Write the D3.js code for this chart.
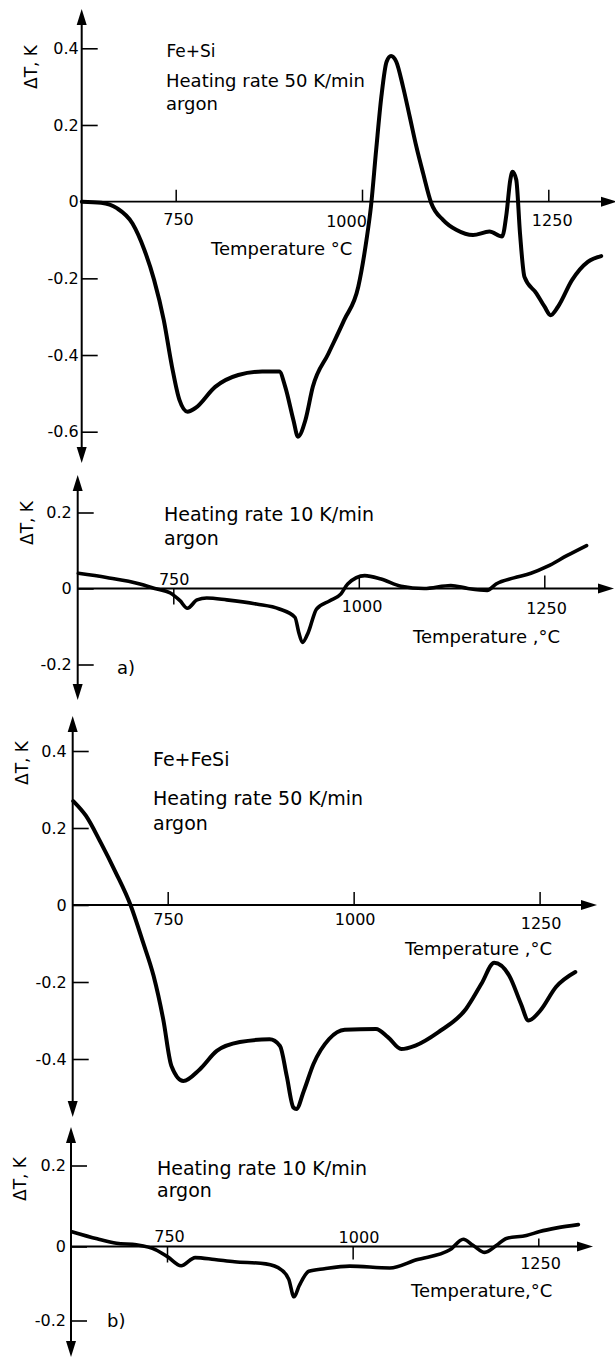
<!DOCTYPE html>
<html>
<head>
<meta charset="utf-8">
<script src="https://cdn.jsdelivr.net/npm/d3@7"></script>
<style>
  html, body { margin: 0; padding: 0; background: #fff; }
  svg { display: block; }
</style>
</head>
<body>
<script>
// ---------------- DATA ----------------
const xTicks = [750, 1000, 1250];
const yTicksA = [0.4, 0.2, 0, -0.2, -0.4, -0.6];
const yTicksB = [0.2, 0, -0.2];
const yTicksC = [0.4, 0.2, 0, -0.2, -0.4];
const yTicksD = [0.2, 0, -0.2];

// a) Fe+Si, 50 K/min
const tempA = [624, 650, 671, 692, 708, 721, 734, 745, 755, 766, 776, 803, 834, 866, 889, 897, 908, 914, 924, 934,
  955, 976, 995, 1006, 1012, 1019, 1026, 1033, 1039, 1046, 1055, 1064, 1073, 1082, 1093, 1109, 1127, 1149, 1171, 1188,
  1194, 1199, 1202, 1207, 1212, 1218, 1234, 1245, 1253, 1263, 1282, 1303, 1321];
const dtA = [0, -0.003, -0.017, -0.057, -0.126, -0.204, -0.309, -0.43, -0.517, -0.548, -0.539, -0.483, -0.452, -0.443, -0.443, -0.483, -0.57, -0.613, -0.57, -0.483,
  -0.396, -0.309, -0.222, -0.1, -0.013, 0.135, 0.274, 0.365, 0.38, 0.365, 0.30, 0.222, 0.143, 0.074, -0.004, -0.048, -0.074, -0.087, -0.078, -0.091,
  -0.03, 0.057, 0.078, 0.057, -0.082, -0.196, -0.239, -0.274, -0.296, -0.274, -0.204, -0.157, -0.142];

// a) Fe+Si, 10 K/min
const tempB = [622, 660, 705, 725, 746, 759, 769, 782, 795, 822, 862, 893, 914, 919, 924, 932, 943, 961, 976, 985,
  1008, 1030, 1057, 1088, 1124, 1147, 1173, 1185, 1209, 1232, 1254, 1281, 1307];
const dtB = [0.040, 0.029, 0.012, 0, -0.012, -0.032, -0.052, -0.030, -0.025, -0.030, -0.041, -0.054, -0.076, -0.115, -0.142, -0.115, -0.054, -0.032, -0.014, 0.012,
  0.034, 0.025, 0.006, 0.0, 0.008, 0, -0.005, 0.012, 0.028, 0.040, 0.058, 0.087, 0.113];

// b) Fe+FeSi, 50 K/min
const tempC = [623, 640, 660, 680, 700, 717, 731, 744, 755, 771, 793, 816, 847, 887, 901, 910, 919, 923, 933,
  946, 967, 988, 1030, 1046, 1064, 1083, 1114, 1151, 1172, 1189, 1209, 1225, 1235, 1251, 1272, 1298];
const dtC = [0.270, 0.232, 0.162, 0.085, 0, -0.098, -0.184, -0.297, -0.418, -0.457, -0.427, -0.379, -0.356, -0.349, -0.366, -0.444, -0.526, -0.53, -0.483,
  -0.413, -0.348, -0.324, -0.322, -0.343, -0.374, -0.365, -0.330, -0.270, -0.204, -0.150, -0.183, -0.257, -0.300, -0.274, -0.213, -0.174];

// b) Fe+FeSi, 10 K/min
const tempD = [623, 656, 682, 709, 735, 751, 769, 788, 814, 841, 883, 904, 914, 921, 928, 941, 962, 996, 1050, 1086,
  1131, 1149, 1162, 1178, 1194, 1207, 1234, 1252, 1275, 1304];
const dtD = [0.036, 0.019, 0.008, 0.004, -0.009, -0.028, -0.052, -0.030, -0.035, -0.041, -0.047, -0.063, -0.089, -0.136, -0.106, -0.067, -0.06, -0.053, -0.058, -0.036,
  -0.009, 0.018, 0.003, -0.016, 0.003, 0.020, 0.027, 0.037, 0.046, 0.054];

const yTitle = "ΔT, K";
const textsA = ["Fe+Si", "Heating rate 50 K/min", "argon", "Temperature °C"];
const textsB = ["Heating rate 10 K/min", "argon", "a)", "Temperature ,°C"];
const textsC = ["Fe+FeSi", "Heating rate 50 K/min", "argon", "Temperature ,°C"];
const textsD = ["Heating rate 10 K/min", "argon", "b)", "Temperature,°C"];

// ---------------- LAYOUT ----------------
const FONT = "'DejaVu Sans', 'Noto Sans', sans-serif";
const panels = [
  { temp: tempA, dt: dtA, yTicks: yTicksA, texts: textsA,
    axisX: 81.7, x750: 175.7, x1250: 548.3,
    yDom: [-0.6, 0.4], yRng: [431.7, 48.3],
    yTop: 9, yBot: 463, xTip: 617, pad: 3,
    tickY2: [-12, -12, -12], labDx: [2.3, -16, 3.4], labY: [23.3, 25, 24.3],
    textPos: [[166.5, 57, 17], [166, 87, 18], [166, 109.5, 18], [211, 255, 18]],
    titlePos: [31, 67], curveW: 4 },
  { temp: tempB, dt: dtB, yTicks: yTicksB, texts: textsB,
    axisX: 77.7, x750: 173.3, x1250: 544.3,
    yDom: [-0.2, 0.2], yRng: [664.5, 512.5],
    yTop: 475, yBot: 700, xTip: 614, pad: 6,
    tickY2: [16, -13, -13], labDx: [0.4, 2.7, 1.7], labY: [-3.5, 23.2, 25.5],
    textPos: [[164, 520.5, 19], [164, 545, 19], [117, 674, 18], [413, 643, 18]],
    titlePos: [27, 523], curveW: 3.6 },
  { temp: tempC, dt: dtC, yTicks: yTicksC, texts: textsC,
    axisX: 72.7, x750: 167.7, x1250: 539.6,
    yDom: [-0.4, 0.4], yRng: [1059, 751],
    yTop: 716, yBot: 1117, xTip: 597, pad: 6,
    tickY2: [-13, -13, -13], labDx: [0.3, 1, 1], labY: [20, 20, 23.5],
    textPos: [[153, 766, 19], [153, 805, 19], [153, 830, 19], [405, 955, 18]],
    titlePos: [22, 763], curveW: 4 },
  { temp: tempD, dt: dtD, yTicks: yTicksD, texts: textsD,
    axisX: 71, x750: 167, x1250: 538.3,
    yDom: [-0.2, 0, 0.2], yRng: [1320.5, 1246.5, 1165.5],
    yTop: 1127, yBot: 1357, xTip: 593, pad: 5,
    tickY2: [16, 13, -8], labDx: [2, 5.8, 1.7], labY: [-4.8, -3.5, 22.5],
    textPos: [[157, 1175, 19], [157, 1197, 19], [107, 1327, 18], [411, 1297, 18]],
    titlePos: [20, 1179], curveW: 3.6 }
];

// ---------------- DRAW ----------------
const svg = d3.select("body").append("svg")
  .attr("width", 615).attr("height", 1359)
  .attr("viewBox", "0 0 615 1359");
svg.append("rect").attr("width", 615).attr("height", 1359).attr("fill", "#fff");

const fmtY = d => d === 0 ? "0" : d.toFixed(1);

panels.forEach(p => {
  const x = d3.scaleLinear().domain([750, 1250]).range([p.x750, p.x1250]);
  const y = d3.scaleLinear().domain(p.yDom).range(p.yRng);
  const y0 = y(0);
  const g = svg.append("g");

  // axis lines
  g.append("line").attr("x1", p.axisX).attr("x2", p.axisX)
    .attr("y1", p.yTop + 8).attr("y2", p.yBot - 8)
    .attr("stroke", "#000").attr("stroke-width", 2);
  g.append("line").attr("x1", p.axisX).attr("x2", p.xTip - 8)
    .attr("y1", y0).attr("y2", y0)
    .attr("stroke", "#000").attr("stroke-width", 1.8);

  // arrow heads
  const ah = 16, aw = 5;
  g.append("path").attr("fill", "#000")
    .attr("d", `M${p.axisX},${p.yTop} L${p.axisX - aw},${p.yTop + ah} L${p.axisX + aw},${p.yTop + ah} Z`);
  g.append("path").attr("fill", "#000")
    .attr("d", `M${p.axisX},${p.yBot} L${p.axisX - aw},${p.yBot - ah} L${p.axisX + aw},${p.yBot - ah} Z`);
  g.append("path").attr("fill", "#000")
    .attr("d", `M${p.xTip},${y0} L${p.xTip - ah},${y0 - aw} L${p.xTip - ah},${y0 + aw} Z`);

  // y axis ticks + labels
  const ya = g.append("g").attr("transform", `translate(${p.axisX},0)`)
    .call(d3.axisLeft(y).tickValues(p.yTicks).tickSize(-16).tickPadding(p.pad).tickFormat(fmtY));
  ya.select(".domain").remove();
  ya.selectAll(".tick line").attr("stroke", "#000").attr("stroke-width", 1.6);
  ya.selectAll(".tick text").attr("fill", "#000")
    .style("font-family", FONT).style("font-size", "16px");

  // x axis ticks + labels
  const xa = g.append("g").attr("transform", `translate(0,${y0})`)
    .call(d3.axisBottom(x).tickValues(xTicks).tickSize(0).tickFormat(d3.format("d")));
  xa.select(".domain").remove();
  xa.selectAll(".tick").each(function(d, i) {
    const t = d3.select(this);
    t.select("line").attr("y2", p.tickY2[i]).attr("stroke", "#000").attr("stroke-width", 1.5);
    t.select("text").attr("x", p.labDx[i]).attr("y", p.labY[i]).attr("dy", null)
      .attr("fill", "#000").style("font-family", FONT).style("font-size", "16px");
  });

  // curve
  const line = d3.line().x(d => x(d[0])).y(d => y(d[1])).curve(d3.curveMonotoneX);
  g.append("path").datum(d3.zip(p.temp, p.dt))
    .attr("d", line).attr("fill", "none").attr("stroke", "#000")
    .attr("stroke-width", p.curveW).attr("stroke-linejoin", "round").attr("stroke-linecap", "round");

  // annotations
  p.texts.forEach((t, i) => {
    const [tx, ty, ts] = p.textPos[i];
    g.append("text").attr("x", tx).attr("y", ty).text(t)
      .attr("fill", "#000").style("font-family", FONT).style("font-size", ts + "px");
  });

  // y title
  g.append("text")
    .attr("transform", `translate(${p.titlePos[0]},${p.titlePos[1]}) rotate(-90)`)
    .attr("text-anchor", "middle").attr("dominant-baseline", "central")
    .attr("fill", "#000").style("font-family", FONT).style("font-size", "17px")
    .text(yTitle);
});
</script>
</body>
</html>
